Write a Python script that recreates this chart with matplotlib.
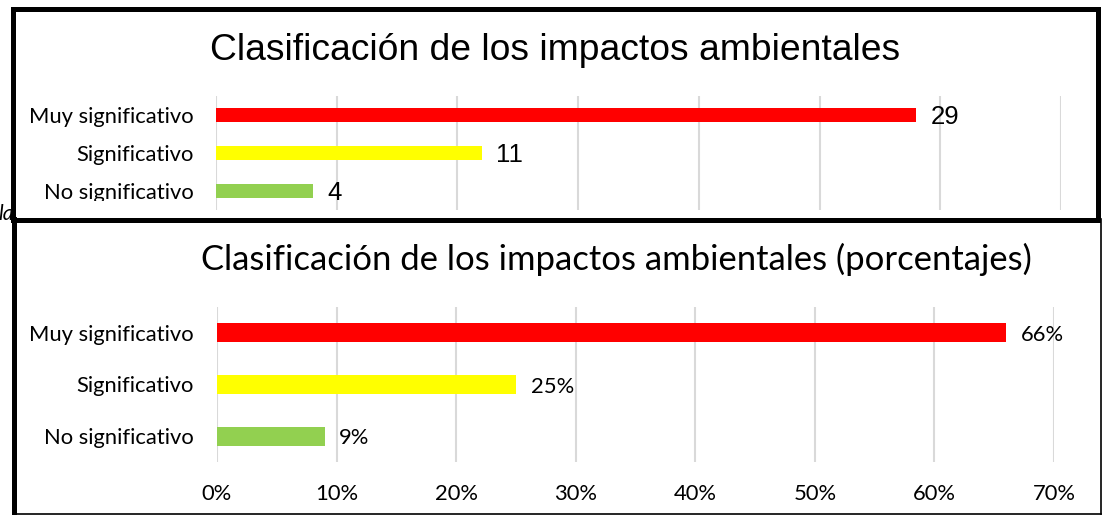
import matplotlib
matplotlib.use('Agg')
import matplotlib.pyplot as plt
from matplotlib.lines import Line2D
from matplotlib.patches import Rectangle
from matplotlib.transforms import Bbox, TransformedBbox

# Datos
categorias = ['Muy significativo', 'Significativo', 'No significativo']
cantidades = [29, 11, 4]
porcentajes = [66, 25, 9]
colores = ['#FF0000', '#FFFF00', '#92D050']

ticks_cant = [0, 5, 10, 15, 20, 25, 30, 35]
ticks_pct = [0, 10, 20, 30, 40, 50, 60, 70]

W, H = 1102, 515
fig = plt.figure(figsize=(W / 100, H / 100), dpi=100)
fig.patch.set_facecolor('white')

def fx(px):
    return px / W

def fy(py):
    return (H - py) / H

gris = '#D9D9D9'
calibri = 'Lato'
arial = 'Liberation Sans'

pos = [2, 1, 0]

# ---- Grafico superior (cantidades) ----
ax1 = fig.add_axes([fx(216), fy(210), fx(1061) - fx(216), fy(96) - fy(210)])
ax1.barh(pos, cantidades, height=0.37, color=colores, zorder=2)
ax1.set_xlim(0, 35)
ax1.set_ylim(-0.5, 2.5)
ax1.set_xticks(ticks_cant)
ax1.set_xticklabels([])
ax1.set_yticks(pos)
ax1.set_yticklabels(categorias, fontfamily=calibri, fontsize=15.8)
ax1.tick_params(length=0, pad=16)
ax1.xaxis.grid(True, color=gris, lw=1.5, zorder=0)
ax1.set_axisbelow(True)
for s in ax1.spines.values():
    s.set_visible(False)
for p, v in zip(pos, cantidades):
    ax1.annotate(str(v), (v, p), xytext=(10.5, -1.5), textcoords='offset points',
                 ha='left', va='center', fontfamily=arial, fontsize=18.5)

clip = TransformedBbox(Bbox.from_extents(0, fy(201), 1, 1), fig.transFigure)
for lab in ax1.get_yticklabels():
    lab.set_clip_box(clip)
    lab.set_clip_on(True)

fig.text(fx(555), fy(51), 'Clasificación de los impactos ambientales',
         ha='center', va='center', fontfamily=arial, fontsize=26.8)

# texto de fondo parcialmente tapado
fig.text(fx(-2), fy(214), 'la', ha='left', va='center', style='italic',
         fontfamily=calibri, fontsize=15, zorder=1)

# marco superior
fig.add_artist(Rectangle((fx(12.5), fy(219.5)), fx(1098) - fx(12.5), fy(9.5) - fy(219.5),
                         transform=fig.transFigure, fill=False, ec='black', lw=3.6, zorder=5))

# ---- Grafico inferior (porcentajes) ----
fig.add_artist(Rectangle((fx(13.5), fy(513.5)), fx(1101) - fx(13.5), fy(222) - fy(513.5),
                         transform=fig.transFigure, fc='white', ec='none', zorder=3))

ax2 = fig.add_axes([fx(217), fy(462), fx(1054) - fx(217), fy(307) - fy(462)])
ax2.set_zorder(4)
ax2.patch.set_alpha(0)
ax2.barh(pos, porcentajes, height=0.37, color=colores, zorder=2)
ax2.set_xlim(0, 70)
ax2.set_ylim(-0.5, 2.5)
ax2.set_xticks(ticks_pct)
ax2.set_xticklabels(['%d%%' % t for t in ticks_pct], fontfamily=calibri, fontsize=15.8)
ax2.set_yticks(pos)
ax2.set_yticklabels(categorias, fontfamily=calibri, fontsize=15.8)
ax2.tick_params(axis='y', length=0, pad=17)
ax2.tick_params(axis='x', length=0, pad=16)
ax2.xaxis.grid(True, color=gris, lw=1.5, zorder=0)
ax2.set_axisbelow(True)
for s in ax2.spines.values():
    s.set_visible(False)
for p, v in zip(pos, porcentajes):
    ax2.annotate('%d%%' % v, (v, p), xytext=(10.5, -1.5), textcoords='offset points',
                 ha='left', va='center', fontfamily=calibri, fontsize=15.8)

fig.text(fx(616), fy(259), 'Clasificación de los impactos ambientales (porcentajes)',
         ha='center', va='center', fontfamily=calibri, fontsize=24.9, zorder=6)

# marco inferior
fig.add_artist(Line2D([fx(13.5), fx(13.5)], [fy(219), fy(514)], transform=fig.transFigure,
                      color='black', lw=3.6, zorder=6))
fig.add_artist(Line2D([fx(13.5), fx(1101)], [fy(513.5), fy(513.5)], transform=fig.transFigure,
                      color='black', lw=1.2, zorder=6))
fig.add_artist(Line2D([fx(1101), fx(1101)], [fy(219), fy(513.5)], transform=fig.transFigure,
                      color='black', lw=1.2, zorder=6))
fig.add_artist(Line2D([fx(12.5), fx(1098)], [fy(219.5), fy(219.5)], transform=fig.transFigure,
                      color='black', lw=3.6, zorder=6))

fig.savefig('out.png', dpi=100)
